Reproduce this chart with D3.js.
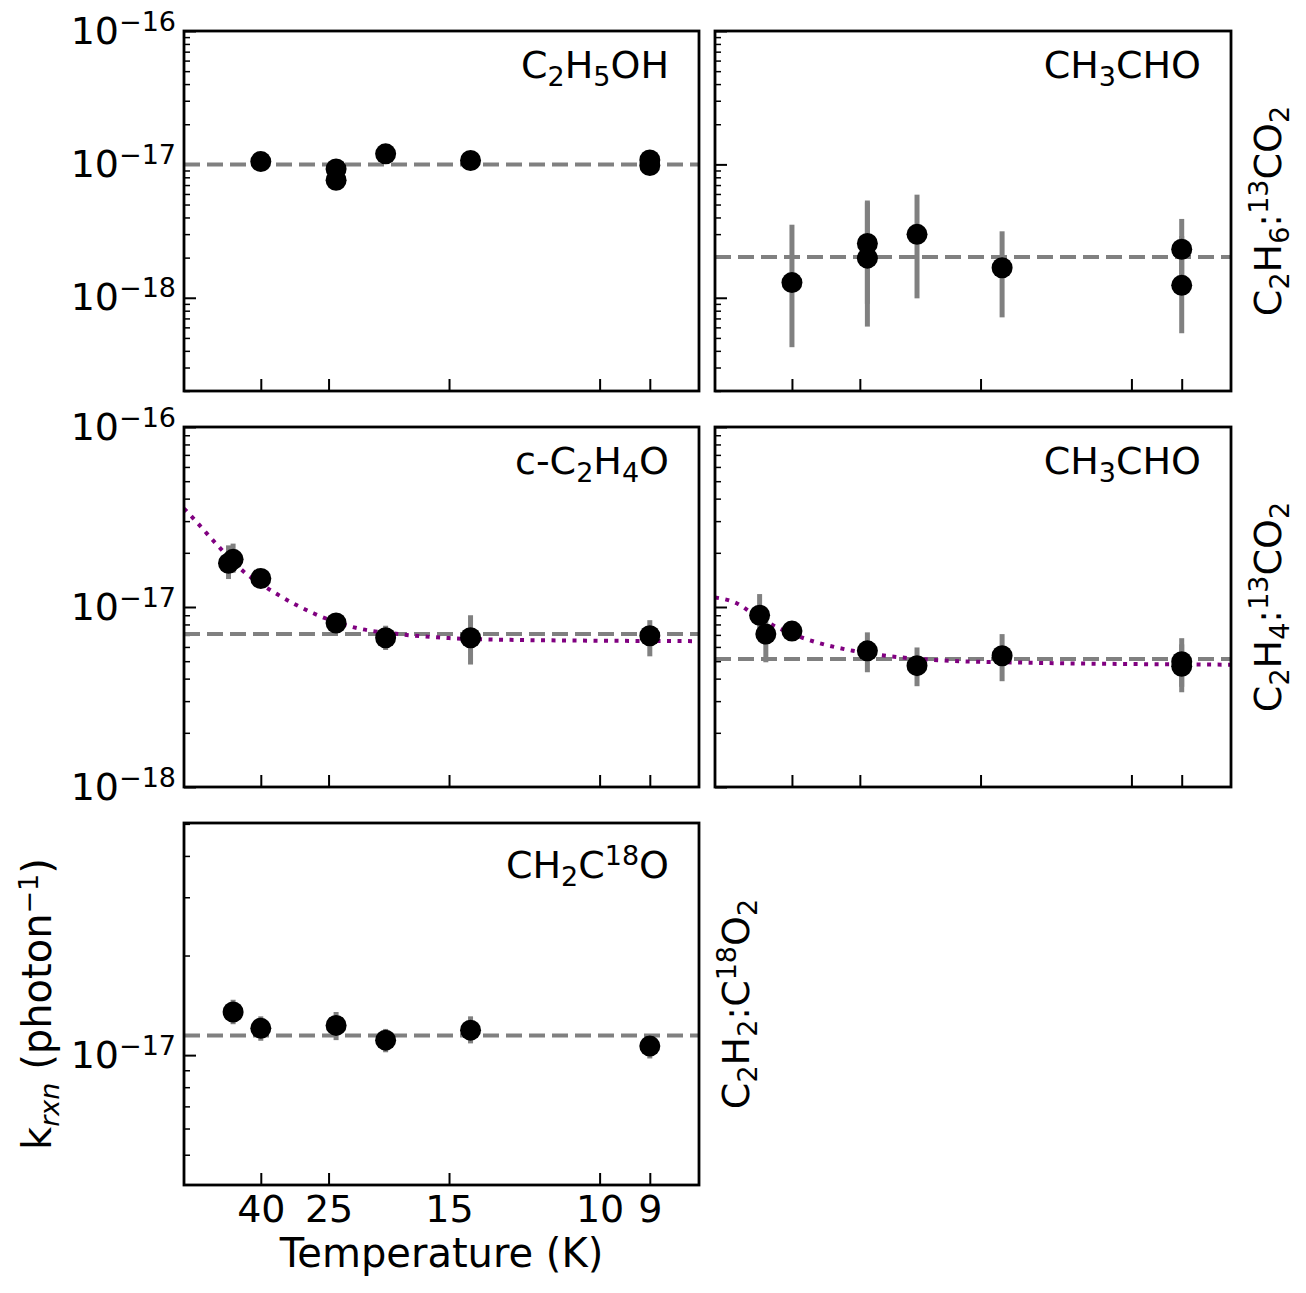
<!DOCTYPE html>
<html>
<head>
<meta charset="utf-8">
<script src="https://cdn.jsdelivr.net/npm/d3@7"></script>
<style>
  body { margin: 0; background: #fff; }
  text { font-family: "DejaVu Sans", sans-serif; }
</style>
</head>
<body>
<div id="chart"></div>
<script>
// temperatures shown on the x axis (axis is linear in 1/T)
const xTickTemps = [40, 25, 15, 10, 9];

// C2H5OH from C2H6:13CO2
const ethanolT = [40, 24, 24, 19, 14, 9, 9];
const ethanolK = [1.05e-17, 9.25e-18, 7.6e-18, 1.2e-17, 1.07e-17, 1.08e-17, 9.8e-18];
const ethanolMean = 1.0e-17;

// CH3CHO from C2H6:13CO2
const acetC2H6T = [40, 24, 24, 19, 14, 9, 9];
const acetC2H6K = [1.30e-18, 2.55e-18, 1.98e-18, 2.99e-18, 1.68e-18, 2.31e-18, 1.24e-18];
const acetC2H6Lo = [4.26e-19, 9.0e-19, 6.08e-19, 9.9e-19, 7.13e-19, 1.2e-18, 5.42e-19];
const acetC2H6Hi = [3.53e-18, 5.2e-18, 5.36e-18, 5.93e-18, 3.15e-18, 3.9e-18, 2.9e-18];
const acetC2H6Mean = 2.02e-18;

// c-C2H4O from C2H4:13CO2
const oxideT = [56, 53, 40, 24, 19, 14, 9];
const oxideK = [1.75e-17, 1.84e-17, 1.44e-17, 8.15e-18, 6.75e-18, 6.75e-18, 6.92e-18];
const oxideLo = [1.43e-17, 1.55e-17, 1.36e-17, 7.6e-18, 5.77e-18, 4.79e-18, 5.32e-18];
const oxideHi = [2.2e-17, 2.25e-17, 1.53e-17, 8.8e-18, 7.87e-18, 9.0e-18, 8.45e-18];
const oxideMean = 7.08e-18;
const oxideFitT = [125, 100.5, 67.3, 47.5, 35, 27.2, 21.9, 18.0, 15.0, 12.25, 8.15];
const oxideFitK = [3.52e-17, 3.13e-17, 2.28e-17, 1.585e-17, 1.18e-17, 9.2e-18, 7.7e-18, 7.07e-18, 6.72e-18, 6.56e-18, 6.46e-18];

// CH3CHO from C2H4:13CO2
const acetC2H4T = [56, 52, 40, 24, 19, 14, 9, 9];
const acetC2H4K = [9.0e-18, 7.07e-18, 7.35e-18, 5.71e-18, 4.72e-18, 5.36e-18, 4.97e-18, 4.68e-18];
const acetC2H4Lo = [6.9e-18, 4.93e-18, 6.9e-18, 4.34e-18, 3.63e-18, 3.87e-18, 3.36e-18, 3.6e-18];
const acetC2H4Hi = [1.18e-17, 9.2e-18, 7.8e-18, 7.23e-18, 5.96e-18, 7.07e-18, 6.71e-18, 6.2e-18];
const acetC2H4Mean = 5.14e-18;
const acetC2H4FitT = [125, 76.4, 60.7, 43.8, 33.3, 26, 21.3, 18, 13.8, 8.15];
const acetC2H4FitK = [1.13e-17, 1.04e-17, 9.13e-18, 7.48e-18, 6.41e-18, 5.71e-18, 5.32e-18, 5.09e-18, 4.93e-18, 4.78e-18];

// CH2C18O from C2H2:C18O2
const keteneT = [53, 40, 24, 19, 14, 9];
const keteneK = [1.35e-17, 1.205e-17, 1.23e-17, 1.11e-17, 1.19e-17, 1.065e-17];
const keteneLo = [1.24e-17, 1.105e-17, 1.11e-17, 1.02e-17, 1.085e-17, 9.77e-18];
const keteneHi = [1.47e-17, 1.31e-17, 1.35e-17, 1.2e-17, 1.31e-17, 1.15e-17];
const keteneMean = 1.147e-17;

const width = 1306, height = 1293;
const colX = [184, 715], colW = [515, 516];
const rowY = [31, 427, 823], rowH = [360, 360, 362];
const big = 38, small = 27;

const panels = [
  {col: 0, row: 0, T: ethanolT, K: ethanolK, mean: ethanolMean,
   yDomain: [2e-19, 1e-16], showY: true,
   title: [["C"], ["2", "sub"], ["H"], ["5", "sub"], ["OH"]]},
  {col: 1, row: 0, T: acetC2H6T, K: acetC2H6K, lo: acetC2H6Lo, hi: acetC2H6Hi, mean: acetC2H6Mean,
   yDomain: [2e-19, 1e-16],
   title: [["CH"], ["3", "sub"], ["CHO"]],
   right: [["C"], ["2", "sub"], ["H"], ["6", "sub"], [":"], ["13", "sup"], ["CO"], ["2", "sub"]]},
  {col: 0, row: 1, T: oxideT, K: oxideK, lo: oxideLo, hi: oxideHi, mean: oxideMean,
   fitT: oxideFitT, fitK: oxideFitK, yDomain: [1e-18, 1e-16], showY: true,
   title: [["c-C"], ["2", "sub"], ["H"], ["4", "sub"], ["O"]]},
  {col: 1, row: 1, T: acetC2H4T, K: acetC2H4K, lo: acetC2H4Lo, hi: acetC2H4Hi, mean: acetC2H4Mean,
   fitT: acetC2H4FitT, fitK: acetC2H4FitK, yDomain: [1e-18, 1e-16],
   title: [["CH"], ["3", "sub"], ["CHO"]],
   right: [["C"], ["2", "sub"], ["H"], ["4", "sub"], [":"], ["13", "sup"], ["CO"], ["2", "sub"]]},
  {col: 0, row: 2, T: keteneT, K: keteneK, lo: keteneLo, hi: keteneHi, mean: keteneMean,
   yDomain: [4.05e-18, 5.03e-17], showY: true, showX: true, titleDrop: 8,
   title: [["CH"], ["2", "sub"], ["C"], ["18", "sup"], ["O"]],
   right: [["C"], ["2", "sub"], ["H"], ["2", "sub"], [":C"], ["18", "sup"], ["O"], ["2", "sub"]]},
];

const svg = d3.select("#chart")
  .append("svg")
    .attr("width", width)
    .attr("height", height)
    .style("background", "#fff");

// writes sub/superscripts as tspans
function richText(t, parts, italicSub, size) {
  const main = size || big;
  let shift = 0;
  parts.forEach(([s, mode]) => {
    const target = mode === "sub" ? 8 : mode === "sup" ? -13 : 0;
    const ts = t.append("tspan")
      .attr("dy", target - shift)
      .attr("font-size", mode ? small : main)
      .text(s);
    if (mode === "sub" && italicSub) ts.attr("font-style", "italic");
    shift = target;
  });
}

function drawPanel(p, i) {
  const w = colW[p.col], h = rowH[p.row];
  const g = svg.append("g")
    .attr("transform", `translate(${colX[p.col]},${rowY[p.row]})`);

  const x = d3.scaleLinear().domain([0.008, 0.122]).range([0, w]);
  const y = d3.scaleLog().domain(p.yDomain).range([h, 0]);

  g.append("clipPath").attr("id", "clip" + i)
    .append("rect").attr("width", w).attr("height", h);

  // log ticks: minor first, then decades
  const isDecade = v => Math.abs(Math.log10(v) - Math.round(Math.log10(v))) < 1e-6;
  const all = y.ticks();
  const minor = all.filter(v => !isDecade(v));
  const major = all.filter(isDecade);

  g.append("g")
    .call(d3.axisLeft(y).tickValues(minor).tickSizeInner(-6).tickSizeOuter(0).tickFormat(""))
    .call(a => a.select(".domain").remove())
    .selectAll("line").attr("stroke-width", 1.5);

  const yAxis = g.append("g")
    .call(d3.axisLeft(y).tickValues(major).tickSizeInner(-12).tickSizeOuter(0).tickPadding(8)
      .tickFormat(p.showY ? (d => d) : ""))
    .attr("font-size", big)
    .attr("font-family", "DejaVu Sans");
  yAxis.select(".domain").remove();
  yAxis.selectAll("line").attr("stroke-width", 2);
  if (p.showY) {
    yAxis.selectAll(".tick text").each(function(d) {
      const e = Math.round(Math.log10(d));
      const t = d3.select(this).text(null);
      t.append("tspan").text("10");
      t.append("tspan").attr("dy", -13).attr("font-size", small).text("\u2212" + Math.abs(e));
    });
  }

  const xAxis = g.append("g")
    .attr("transform", `translate(0,${h})`)
    .call(d3.axisBottom(x).tickValues(xTickTemps.map(t => 1 / t))
      .tickSizeInner(-12).tickSizeOuter(0).tickPadding(10)
      .tickFormat(p.showX ? (d => Math.round(1 / d)) : ""))
    .attr("font-size", big)
    .attr("font-family", "DejaVu Sans");
  xAxis.select(".domain").remove();
  xAxis.selectAll("line").attr("stroke-width", 2);

  const plot = g.append("g").attr("clip-path", `url(#clip${i})`);

  // error bars
  if (p.lo) {
    plot.selectAll(".err")
      .data(p.T.map((t, j) => ({t: t, lo: p.lo[j], hi: p.hi[j]})))
      .join("line")
        .attr("x1", d => x(1 / d.t)).attr("x2", d => x(1 / d.t))
        .attr("y1", d => y(d.lo)).attr("y2", d => y(d.hi))
        .attr("stroke", "#808080")
        .attr("stroke-width", 5);
  }

  // mean value
  plot.append("line")
    .attr("x1", x(0.008)).attr("x2", x(0.122))
    .attr("y1", y(p.mean)).attr("y2", y(p.mean))
    .attr("stroke", "#808080")
    .attr("stroke-width", 4)
    .attr("stroke-dasharray", "16,7");

  // temperature fit
  if (p.fitT) {
    const line = d3.line()
      .x(d => x(1 / d[0]))
      .y(d => y(d[1]))
      .curve(d3.curveMonotoneX);
    plot.append("path")
      .datum(p.fitT.map((t, j) => [t, p.fitK[j]]))
      .attr("d", line)
      .attr("fill", "none")
      .attr("stroke", "purple")
      .attr("stroke-width", 4)
      .attr("stroke-dasharray", "4,6.5");
  }

  plot.selectAll(".dot")
    .data(p.T.map((t, j) => ({t: t, k: p.K[j]})))
    .join("circle")
      .attr("cx", d => x(1 / d.t))
      .attr("cy", d => y(d.k))
      .attr("r", 10.5)
      .attr("fill", "black");

  g.append("rect")
    .attr("width", w).attr("height", h)
    .attr("fill", "none")
    .attr("stroke", "black")
    .attr("stroke-width", 2.8);

  const title = g.append("text")
    .attr("x", w - 30)
    .attr("y", 47 + (p.titleDrop || 0))
    .attr("text-anchor", "end")
    .attr("font-size", big);
  richText(title, p.title);

  if (p.right) {
    const r = g.append("text")
      .attr("transform", `translate(${w + 50},${h / 2}) rotate(-90)`)
      .attr("text-anchor", "middle")
      .attr("font-size", big);
    richText(r, p.right);
  }
}

panels.forEach(drawPanel);

// shared axis labels
svg.append("text")
  .attr("x", colX[0] + colW[0] / 2)
  .attr("y", 1267)
  .attr("text-anchor", "middle")
  .attr("font-size", 40)
  .text("Temperature (K)");

const yl = svg.append("text")
  .attr("transform", `translate(51,${rowY[2] + rowH[2] / 2}) rotate(-90)`)
  .attr("text-anchor", "middle")
  .attr("font-size", 40);
richText(yl, [["k"], ["rxn", "sub"], [" (photon"], ["\u22121", "sup"], [")"]], true, 40);
</script>
</body>
</html>
